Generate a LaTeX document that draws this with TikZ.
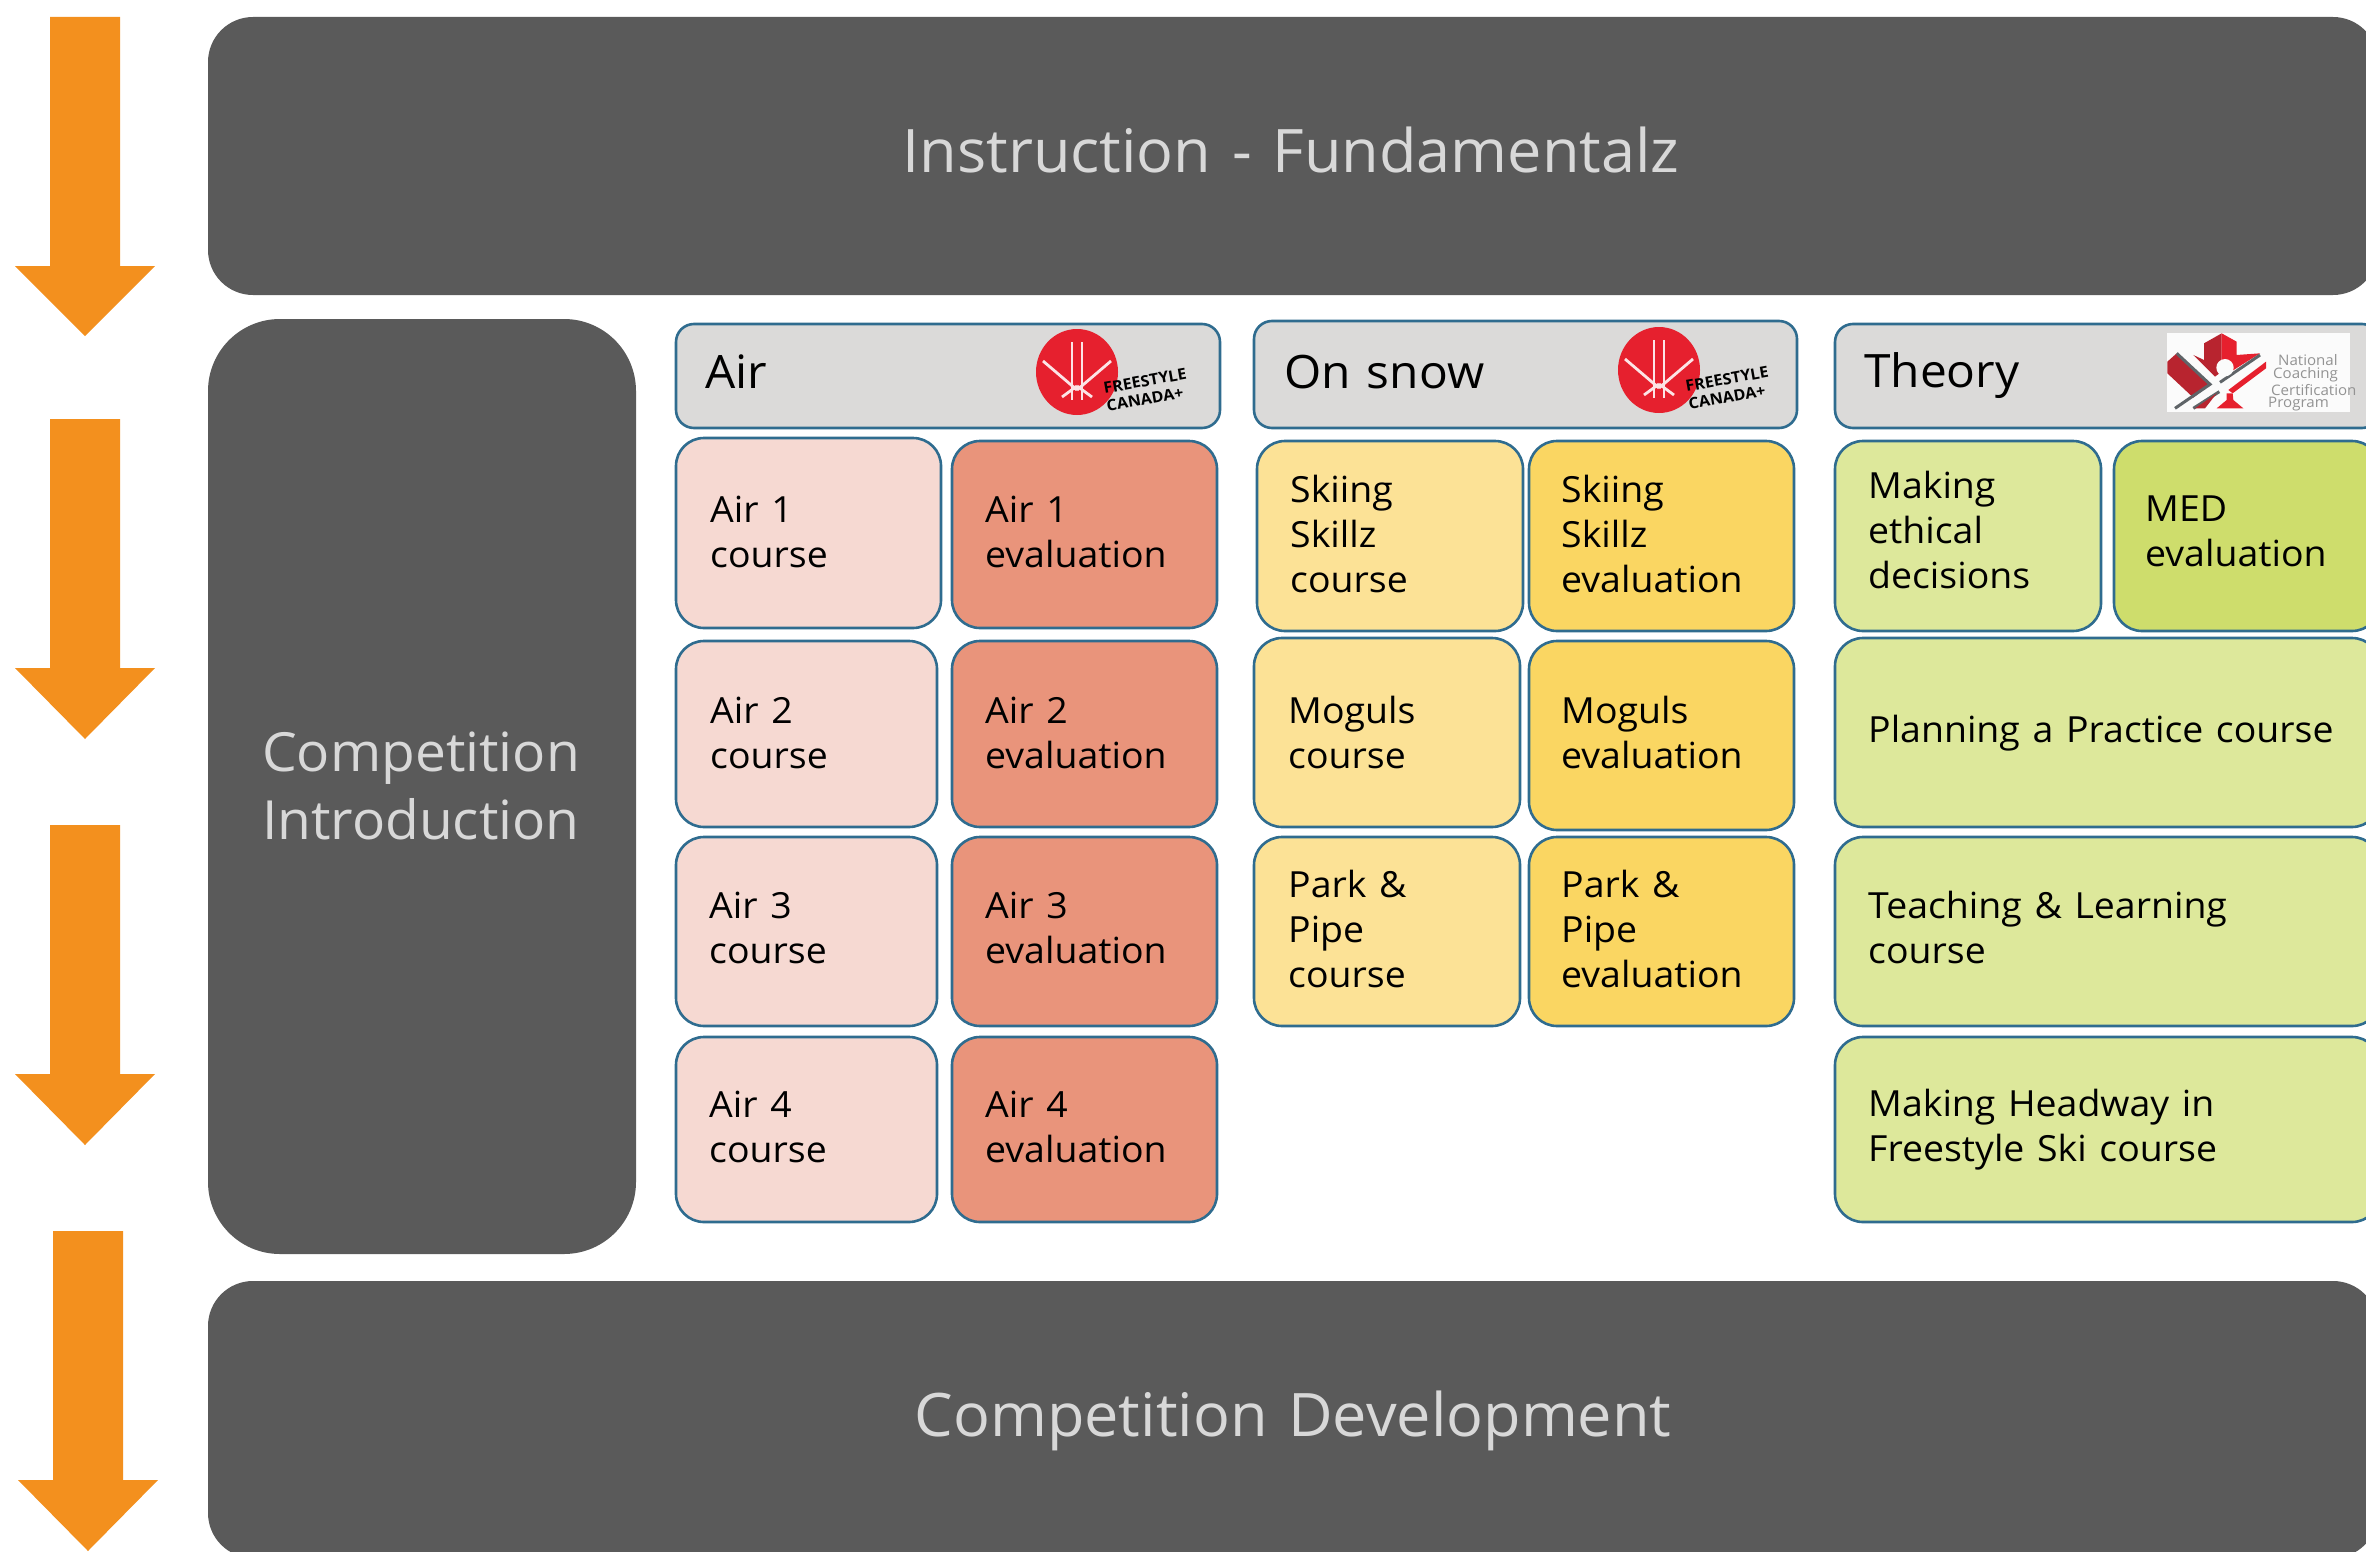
\documentclass[tikz,border=0pt]{standalone}
\usepackage{fontspec}
\setmainfont{Open Sans}[FakeStretch=1.04,WordSpace=1.3]
\newfontfamily\lightf{Open Sans}[FakeStretch=1.02,WordSpace=1.3]
\definecolor{dark}{HTML}{5A5A5A}
\definecolor{org}{HTML}{F3901E}
\definecolor{edge}{HTML}{2F6C8F}
\definecolor{head}{HTML}{DBDAD9}
\definecolor{airc}{HTML}{F6D9D2}
\definecolor{aire}{HTML}{E9947B}
\definecolor{snowc}{HTML}{FCE296}
\definecolor{snowe}{HTML}{FAD662}
\definecolor{thc}{HTML}{DDE89B}
\definecolor{the}{HTML}{CEDD6C}
\definecolor{lab}{HTML}{D8D8D8}
\definecolor{logored}{HTML}{E6202E}
\definecolor{logodk}{HTML}{B8242F}
\definecolor{logogr}{HTML}{5F6468}
\tikzset{
 x=1pt,y=-1pt,
 bigbox/.style={fill=dark,draw=none},
 card/.style={draw=edge,line width=2.6pt,rounded corners=28pt},
 hdr/.style={draw=edge,line width=2.6pt,rounded corners=18pt,fill=head},
 flow/.style={fill=org,draw=none},
 cardtext/.style={anchor=west,align=left,font=\fontsize{36}{45}\selectfont,inner sep=0pt,text=black},
 hdrtext/.style={anchor=west,font=\fontsize{46}{50}\selectfont,inner sep=0pt,text=black},
 bigtext/.style={align=left,font=\lightf\fontsize{60}{68}\selectfont,text=lab,inner sep=0pt},
 sidetext/.style={align=left,font=\lightf\fontsize{54}{68}\selectfont,text=lab,inner sep=0pt},
 logotext/.style={font=\fontsize{14.5}{14.5}\selectfont,text=gray!85,inner sep=0pt,anchor=west},
}
% name, fill, x1,y1,x2,y2, text-x, text-y, text
\newcommand{\cardbox}[9]{%
 \draw[card,fill=#2] (#3,#4) rectangle (#5,#6);
 \node[cardtext] (#1) at (#7,#8) {#9};}
\newcommand{\flowarrow}[5]{% cx, top, base, tip, halfshaft
 \fill[flow] ({#1-#5},#2) -- ({#1+#5},#2) -- ({#1+#5},#3) -- ({#1+70},#3) -- (#1,#4) -- ({#1-70},#3) -- ({#1-#5},#3) -- cycle;}
\newcommand{\fclogo}[3]{% name, x,y of circle centre
 \begin{scope}[shift={(#2,#3)}]
 \fill[logored] (0,0) ellipse [x radius=41,y radius=43];
 \draw[white!88!logored,line width=2.4pt] (-5,-30) -- (-5,28) (5,-30) -- (5,28);
 \draw[white!88!logored,line width=2.8pt] (-34,-11) -- (0,18) (34,-11) -- (0,18) (-15,25) -- (0,14) (15,25) -- (0,14);
 \node[rotate=10,font=\bfseries\fontsize{15.5}{18}\selectfont,align=left,inner sep=0pt,anchor=west,text=black] (#1) at (28,25) {FREESTYLE\\CANADA+};
 \end{scope}}
\begin{document}
\begin{tikzpicture}
\useasboundingbox (0,0) rectangle (2366,1552);
\begin{scope}
\clip (0,0) rectangle (2366,1552);
\flowarrow{85}{17}{266}{336}{35}
\flowarrow{85}{419}{668}{739}{35}
\flowarrow{85}{825}{1074}{1145}{35}
\flowarrow{88}{1231}{1480}{1551}{35}
\fill[bigbox,rounded corners=45pt] (208,17) rectangle (2378,295);
\fill[bigbox,rounded corners=72pt] (208,319) rectangle (636,1254);
\fill[bigbox,rounded corners=45pt] (208,1281) rectangle (2378,1558);
\node[bigtext] (top) at (1291,150) {Instruction - Fundamentalz};
\node[sidetext] (left) at (421,786) {Competition\\Introduction};
\node[bigtext] (bottom) at (1293,1421) {Competition Development};
% headers
\draw[hdr] (676,324) rectangle (1220,428);
\node[hdrtext] (h1) at (705,372) {Air};
\draw[hdr] (1254,321) rectangle (1797,428);
\node[hdrtext] (h2) at (1284,372) {On snow};
\draw[hdr] (1835,324) rectangle (2380,428);
\node[hdrtext] (h3) at (1864,376) {Theory};
% Air
\cardbox{a1}{airc}{676}{438}{941}{628}{710}{531.5}{Air 1\\course}
\cardbox{a1e}{aire}{952}{441}{1217}{628}{985}{531.5}{Air 1\\evaluation}
\cardbox{a2}{airc}{676}{641}{937}{827}{710}{732.5}{Air 2\\course}
\cardbox{a2e}{aire}{952}{641}{1217}{827}{985}{732.5}{Air 2\\evaluation}
\cardbox{a3}{airc}{676}{837}{937}{1026}{709}{927.5}{Air 3\\course}
\cardbox{a3e}{aire}{952}{837}{1217}{1026}{985}{927.5}{Air 3\\evaluation}
\cardbox{a4}{airc}{676}{1037}{937}{1222}{709}{1126.5}{Air 4\\course}
\cardbox{a4e}{aire}{952}{1037}{1217}{1222}{985}{1126.5}{Air 4\\evaluation}
% Snow
\cardbox{s1}{snowc}{1257}{441}{1523}{631}{1290}{534}{Skiing\\Skillz\\course}
\cardbox{s1e}{snowe}{1529}{441}{1794}{631}{1561}{534}{Skiing\\Skillz\\evaluation}
\cardbox{s2}{snowc}{1254}{638}{1520}{827}{1288}{732}{Moguls\\course}
\cardbox{s2e}{snowe}{1529}{641}{1794}{830}{1561}{732}{Moguls\\evaluation}
\cardbox{s3}{snowc}{1254}{837}{1520}{1026}{1288}{928.5}{Park \&\\Pipe\\course}
\cardbox{s3e}{snowe}{1529}{837}{1794}{1026}{1561}{928.5}{Park \&\\Pipe\\evaluation}
% Theory
\cardbox{t1}{thc}{1835}{441}{2101}{631}{1868}{530}{Making\\ethical\\decisions}
\cardbox{t1e}{the}{2114}{441}{2380}{631}{2145}{531.5}{MED\\evaluation}
\cardbox{t2}{thc}{1835}{638}{2380}{827}{1868}{733}{Planning a Practice course}
\cardbox{t3}{thc}{1835}{837}{2380}{1026}{1868}{927.5}{Teaching \& Learning\\course}
\cardbox{t4}{thc}{1835}{1037}{2380}{1222}{1868}{1130}{Making Headway in\\Freestyle Ski course}
% logos
\fclogo{fc1}{1077}{372}
\fclogo{fc2}{1659}{370}
\fill[white!97!gray] (2167,333) rectangle (2350,412);
\begin{scope}[shift={(2160,325)},x=0.3333pt,y=-0.3333pt]
 \fill[logodk] (22,110) -- (50,85) -- (150,178) -- (100,218) -- (22,145) -- cycle;
 \draw[logogr,line width=3pt] (50,85) -- (150,178) -- (45,250);
 \draw[logogr,line width=3pt] (100,250) -- (178,200);
 \fill[logodk] (105,250) -- (170,205) -- (135,250) -- cycle;
 \fill[logodk] (185,25) -- (132,55) -- (132,105) -- (100,90) -- (165,155) -- (185,140) -- cycle;
 \fill[logored] (185,25) -- (230,50) -- (230,90) -- (300,85) -- (205,145) -- (185,110) -- cycle;
 \draw[logogr,line width=3pt] (300,90) -- (180,172);
 \fill[white!97!gray] (195,128) circle [radius=26];
 \fill[logored] (318,110) -- (318,130) -- (218,205) -- (205,195) -- cycle;
 \fill[logored] (170,250) -- (250,250) -- (220,225) -- (218,205) -- (200,205) -- (200,225) -- cycle;
\end{scope}
\node[logotext] (n1) at (2278,360) {National};
\node[logotext] (n2) at (2273,375) {Coaching};
\node[logotext] (n3) at (2271,390) {Certification};
\node[logotext] (n4) at (2268,404) {Program};
\end{scope}
\end{tikzpicture}
\end{document}
